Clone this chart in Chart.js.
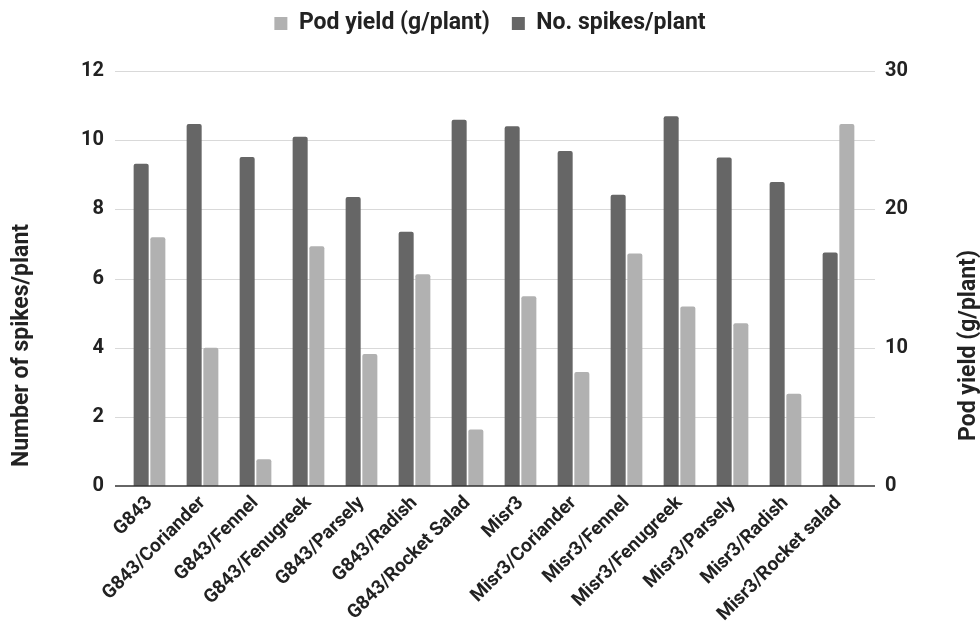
<!DOCTYPE html>
<html>
<head>
<meta charset="utf-8">
<title>Spikes and pod yield</title>
<script src="https://cdn.jsdelivr.net/npm/chart.js@4.4.1/dist/chart.umd.min.js"></script>
<style>
    html, body { margin: 0; padding: 0; background: #ffffff; }
    .chart-wrap { position: relative; width: 980px; height: 637px; }
</style>
</head>
<body>
<div class="chart-wrap"><canvas id="yieldChart"></canvas></div>
<script>
// Treatments along the x axis
const categories = [
    'G843', 'G843/Coriander', 'G843/Fennel', 'G843/Fenugreek', 'G843/Parsely',
    'G843/Radish', 'G843/Rocket Salad', 'Misr3', 'Misr3/Coriander', 'Misr3/Fennel',
    'Misr3/Fenugreek', 'Misr3/Parsely', 'Misr3/Radish', 'Misr3/Rocket salad'
];

// Left axis series
const spikesPerPlant = [9.32, 10.47, 9.51, 10.10, 8.36, 7.35, 10.59, 10.40, 9.69, 8.42, 10.69, 9.50, 8.79, 6.75];

// Right axis series
const podYield = [17.99, 10.00, 1.93, 17.34, 9.55, 15.31, 4.08, 13.72, 8.25, 16.81, 12.97, 11.77, 6.66, 26.16];

// Tick labels
const spikeTicks = [0, 2, 4, 6, 8, 10, 12];
const yieldTicks = [0, 10, 20, 30];

const seriesNames = ['No. spikes/plant', 'Pod yield (g/plant)'];
const axisTitles = ['Number of spikes/plant', 'Pod yield (g/plant)'];

const FONT = 'Roboto, "Noto Sans", sans-serif';
const TEXT = '#222222';

class YieldChart {
    constructor(canvasId) {
        this.canvas = document.getElementById(canvasId);
        this.init();
    }

    init() {
        Chart.defaults.font.family = FONT;
        Chart.defaults.font.weight = 'bold';
        Chart.defaults.color = TEXT;

        this.chart = new Chart(this.canvas, {
            type: 'bar',
            data: {
                labels: categories,
                datasets: [{
                    label: seriesNames[0],
                    data: spikesPerPlant,
                    yAxisID: 'ySpikes',
                    backgroundColor: '#666666',
                    borderWidth: 0,
                    borderRadius: 2
                }, {
                    label: seriesNames[1],
                    data: podYield,
                    yAxisID: 'yYield',
                    backgroundColor: '#b1b1b1',
                    borderWidth: 0,
                    borderRadius: 2
                }]
            },
            options: {
                responsive: true,
                maintainAspectRatio: false,
                animation: false,
                layout: { padding: { top: -10, left: 0, right: 0, bottom: 0 } },
                datasets: {
                    bar: { categoryPercentage: 0.63, barPercentage: 0.9 }
                },
                plugins: {
                    tooltip: { enabled: false },
                    legend: {
                        position: 'top',
                        reverse: true,
                        labels: {
                            boxWidth: 13,
                            boxHeight: 13,
                            padding: 22,
                            color: TEXT,
                            font: { size: 23, weight: 'bold' }
                        }
                    }
                },
                scales: {
                    x: {
                        grid: { display: false, drawTicks: false },
                        border: { display: false },
                        ticks: {
                            autoSkip: false,
                            maxRotation: 45,
                            minRotation: 45,
                            padding: 6,
                            color: TEXT,
                            font: { size: 19, weight: 'bold' }
                        },
                        afterFit: (scale) => { scale.height = 151; }
                    },
                    ySpikes: {
                        position: 'left',
                        min: 0,
                        max: 12,
                        grid: { display: false, drawTicks: false },
                        border: { display: false },
                        ticks: { padding: 19, color: TEXT, font: { size: 20, weight: 'bold' } },
                        afterBuildTicks: (scale) => { scale.ticks = spikeTicks.map(v => ({ value: v })); },
                        afterFit: (scale) => { scale.width = 123; }
                    },
                    yYield: {
                        position: 'right',
                        min: 0,
                        max: 30,
                        grid: { display: false, drawTicks: false },
                        border: { display: false },
                        ticks: { padding: 20, color: TEXT, font: { size: 20, weight: 'bold' } },
                        afterBuildTicks: (scale) => { scale.ticks = yieldTicks.map(v => ({ value: v })); },
                        afterFit: (scale) => { scale.width = 115; }
                    }
                }
            },
            plugins: [this.legendSpacing(), this.wideGrid(), this.axisTitles()]
        });
    }

    /**
     * Leave a fixed gap under the legend
     */
    legendSpacing() {
        return {
            id: 'legendSpacing',
            beforeUpdate(chart) {
                const legend = chart.legend;
                if (legend && !legend._spaced) {
                    const fit = legend.fit.bind(legend);
                    legend.fit = function () {
                        fit();
                        this.height = 81;
                    };
                    legend._spaced = true;
                }
            }
        };
    }

    /**
     * Gridlines that run a little past the plot, like the original
     */
    wideGrid() {
        const line = (ctx, area, py, color) => {
            ctx.strokeStyle = color;
            ctx.beginPath();
            ctx.moveTo(area.left - 8, py);
            ctx.lineTo(area.right + 10, py);
            ctx.stroke();
        };
        return {
            id: 'wideGrid',
            beforeDatasetsDraw(chart) {
                const y = chart.scales.ySpikes;
                const ctx = chart.ctx;
                ctx.save();
                ctx.lineWidth = 1;
                y.ticks.forEach(t => {
                    if (t.value === 0) return;
                    line(ctx, chart.chartArea, Math.round(y.getPixelForValue(t.value)) + 0.5, '#d9d9d9');
                });
                ctx.restore();
            },
            afterDatasetsDraw(chart) {
                const y = chart.scales.ySpikes;
                const ctx = chart.ctx;
                ctx.save();
                ctx.lineWidth = 1.5;
                line(ctx, chart.chartArea, Math.round(y.getPixelForValue(0)), '#333333');
                ctx.restore();
            }
        };
    }

    /**
     * Axis titles sit lower than the plot centre in the original
     */
    axisTitles() {
        return {
            id: 'axisTitles',
            afterDraw(chart) {
                const ctx = chart.ctx;
                const area = chart.chartArea;
                const cy = (area.top + area.bottom) / 2 + 67;
                const put = (text, x) => {
                    ctx.save();
                    ctx.translate(x, cy);
                    ctx.rotate(-Math.PI / 2);
                    ctx.textAlign = 'center';
                    ctx.textBaseline = 'middle';
                    ctx.fillStyle = TEXT;
                    ctx.font = 'bold 23px ' + FONT;
                    ctx.fillText(text, 0, 0);
                    ctx.restore();
                };
                put(axisTitles[0], 22);
                put(axisTitles[1], chart.width - 11);
            }
        };
    }
}

const yieldChart = new YieldChart('yieldChart');
window.yieldChart = yieldChart;
</script>
</body>
</html>
